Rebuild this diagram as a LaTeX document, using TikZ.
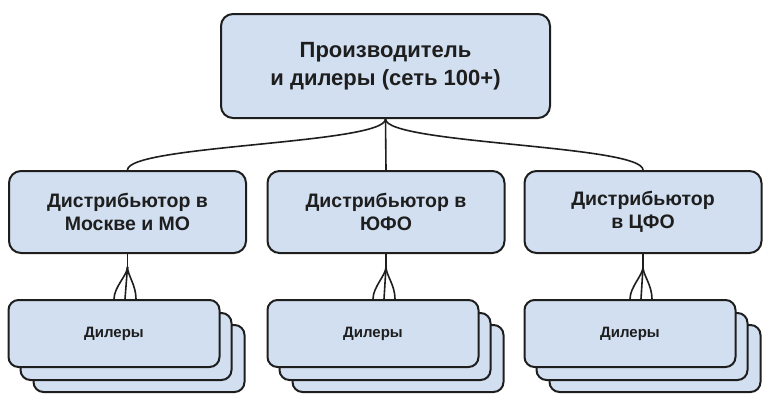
\documentclass[tikz,border=0pt]{standalone}
\usepackage{fontspec}
\setmainfont{Liberation Sans}
\usetikzlibrary{calc}
\definecolor{boxblue}{RGB}{209,223,240}
\definecolor{boxline}{RGB}{30,30,30}
\begin{document}
\begin{tikzpicture}[x=1pt,y=-1pt,
    box/.style={draw=boxline,line width=2pt,fill=boxblue,rounded corners=12pt,align=center,text=boxline},
    dealer/.style={box,rounded corners=10pt,minimum width=211pt,minimum height=67pt,font=\fontsize{15}{18}\selectfont\bfseries},
    dist/.style={box,minimum width=237pt,minimum height=82pt,font=\fontsize{19.5}{23}\selectfont\bfseries},
    link/.style={draw=boxline,line width=1.6pt}]
  \useasboundingbox (0,0) rectangle (775,407);
  \node [box,minimum width=329pt,minimum height=104pt,font=\fontsize{22}{27.5}\selectfont\bfseries] (prod) at (385.5,66) {Производитель\\и дилеры (сеть 100+)};
  \node [dist] (dmsk) at (127.5,212) {Дистрибьютор в\\Москве и МО};
  \node [dist] (dufo) at (386,212) {Дистрибьютор в\\ЮФО};
  \node [dist] (dcfo) at (643,212) {Дистрибьютор\\в ЦФО};
  % stacks of dealers
  \foreach \n/\x in {msk/114,ufo/373,cfo/630} {
    \node [dealer] (\n3) at (\x+25,358.5) {};
    \node [dealer] (\n2) at (\x+12,346.5) {};
    \node [dealer] (\n1) at (\x,333.5) {Дилеры};
  }
  \draw [link] (prod.south) .. controls +(0,25) and +(0,-25) .. (dmsk.north);
  \draw [link] (prod.south) -- (dufo.north);
  \draw [link] (prod.south) .. controls +(0,25) and +(0,-25) .. (dcfo.north);
  % crow's feet
  \foreach \n in {msk,ufo,cfo} {
    \draw [link] (d\n.south) -- ++(0,13) coordinate (f\n);
    \draw [link] (f\n) .. controls +(0,8) and +(0,-12) .. (\n1.north);
    \draw [link] (f\n) -- ($(\n1.north)+(11,0)$);
    \draw [link] (f\n) .. controls +(0,8) and +(0,-14) .. ($(\n1.north)+(22,0)$);
  }
\end{tikzpicture}
\end{document}
